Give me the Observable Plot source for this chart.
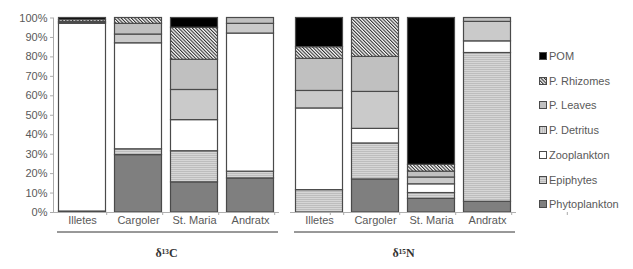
<!DOCTYPE html>
<html><head><meta charset="utf-8">
<script src="https://cdn.jsdelivr.net/npm/d3@7"></script>
<script src="https://cdn.jsdelivr.net/npm/@observablehq/plot@0.6"></script>
<style>
body{margin:0;background:#fff;}
#wrap{position:relative;width:633px;height:269px;}
#legend{position:absolute;left:539px;top:0;font:11px "Liberation Sans",Arial,sans-serif;color:#595959;}
.item{position:absolute;left:0;display:flex;align-items:center;white-space:nowrap;line-height:12px;}
.item svg{margin-right:2px;}
</style></head><body>
<svg width="0" height="0" style="position:absolute">
<defs>
<pattern id="pEpi" width="4" height="2" patternUnits="userSpaceOnUse">
<rect width="4" height="2" fill="#bdbdbd"/><rect width="4" height="1" fill="#d6d6d6"/></pattern>
<pattern id="pDet" width="2" height="4" patternUnits="userSpaceOnUse">
<rect width="2" height="4" fill="#bdbdbd"/><rect width="1" height="4" fill="#d6d6d6"/></pattern>
<pattern id="pRhiz" width="2.4" height="2.4" patternUnits="userSpaceOnUse" patternTransform="rotate(-45)">
<rect width="2.4" height="2.4" fill="#ffffff"/><rect width="1.1" height="2.4" fill="#303030"/></pattern>
</defs></svg>
<div id="wrap"><div id="legend"></div></div>
<script>
const isotopes = ["δ¹³C", "δ¹⁵N"];
const sites = ["Illetes", "Cargoler", "St. Maria", "Andratx"];
const sources = ["Phytoplankton", "Epiphytes", "Zooplankton", "P. Detritus", "P. Leaves", "P. Rhizomes", "POM"];
// % contributions: first 4 = δ13C (Illetes, Cargoler, St. Maria, Andratx), last 4 = δ15N
const phytoplankton = [0.5, 29.5, 15.5, 17.5, 0, 17, 7, 5.5];
const epiphytes     = [0, 3, 16, 3.5, 11.5, 18.5, 3, 76.5];
const zooplankton   = [96.5, 54.5, 16, 71, 42, 7.5, 4.5, 6];
const pDetritus     = [0.5, 4.5, 15.5, 5, 9, 19, 3.5, 10];
const pLeaves       = [0.5, 5.5, 15.5, 3, 16.5, 18, 3, 2];
const pRhizomes     = [1, 3, 16.5, 0, 6, 20, 3.5, 0];
const pom           = [1, 0, 5, 0, 15, 0, 75.5, 0];
const yTicks = [0, 10, 20, 30, 40, 50, 60, 70, 80, 90, 100];

const series = [phytoplankton, epiphytes, zooplankton, pDetritus, pLeaves, pRhizomes, pom];
const fills = ["#7f7f7f", "url(#pEpi)", "#ffffff", "url(#pDet)", "#c0c0c0", "url(#pRhiz)", "#000000"];

const rows = [];
for (let i = 0; i < 8; i++) {
  const iso = isotopes[Math.floor(i / 4)];
  const site = sites[i % 4];
  sources.forEach((s, j) => rows.push({iso, site, source: s, value: series[j][i] / 100}));
}

const plot = Plot.plot({
  width: 633, height: 269,
  marginTop: 17.5, marginBottom: 57, marginLeft: 52.5, marginRight: 115.5,
  style: {fontFamily: "'Liberation Sans', Arial, sans-serif", fontSize: "11px", color: "#595959", background: "#fff"},
  fx: {domain: isotopes, paddingInner: 0.046, paddingOuter: 0, label: null},
  x: {domain: sites, paddingInner: 0.154, paddingOuter: 0.077, label: null},
  y: {domain: [0, 1], label: null},
  color: {domain: sources, range: fills},
  marks: [
    Plot.barY(rows, {fx: "iso", x: "site", y: "value", fill: "source", stroke: "#4a4a4a", strokeWidth: 1.2, filter: d => d.value > 0}),
    Plot.ruleY([0], {stroke: "#b0b0b0"}),
    Plot.axisY({ticks: yTicks.map(v => v / 100), tickFormat: d => Math.round(d * 100) + "%", tickSize: 3, tickPadding: 3, stroke: "#aaa"}),
    Plot.axisX({tickSize: 0, tickPadding: 4}),
    Plot.axisFx({anchor: "bottom", tickSize: 0, tickPadding: 36, fontFamily: "'Liberation Serif', serif", fontWeight: "bold", fontSize: 12, fill: "#333"})
  ]
});
document.getElementById("wrap").prepend(plot);

// axis decorations derived from scales
const svg = d3.select(plot);
const fxS = plot.scale("fx"), xS = plot.scale("x"), yS = plot.scale("y");
const y0 = yS.apply(0), y1 = yS.apply(1);
const fxBW = fxS.bandwidth;
const g = svg.append("g").attr("stroke", "#aaa").attr("fill", "none");
g.append("line").attr("x1", fxS.apply(isotopes[0]) + 0.5).attr("x2", fxS.apply(isotopes[0]) + 0.5).attr("y1", y0).attr("y2", y1);
const step = xS.step;
isotopes.forEach(iso => {
  const f = fxS.apply(iso);
  for (let k = 0; k <= sites.length; k++) {
    const xx = f + (k === sites.length ? xS.apply(sites[k - 1]) + xS.bandwidth + step * 0.077 : xS.apply(sites[k]) - step * 0.077);
    g.append("line").attr("x1", xx).attr("x2", xx).attr("y1", y0).attr("y2", y0 + 3);
  }
  svg.append("line").attr("stroke", "#333").attr("stroke-width", 1)
    .attr("x1", f + 4).attr("x2", f + fxBW - 1).attr("y1", y0 + 20).attr("y2", y0 + 20);
});

// legend
const legend = document.getElementById("legend");
const order = sources.slice().reverse();
order.forEach((s, i) => {
  const it = document.createElement("div");
  it.className = "item";
  it.style.top = (50 + i * 24.7) + "px";
  it.innerHTML = `<svg width="8" height="8"><rect x="0.5" y="0.5" width="7" height="7" fill="${fills[sources.indexOf(s)]}" stroke="#4a4a4a"/></svg><span>${s}</span>`;
  legend.appendChild(it);
});
</script>
</body></html>
